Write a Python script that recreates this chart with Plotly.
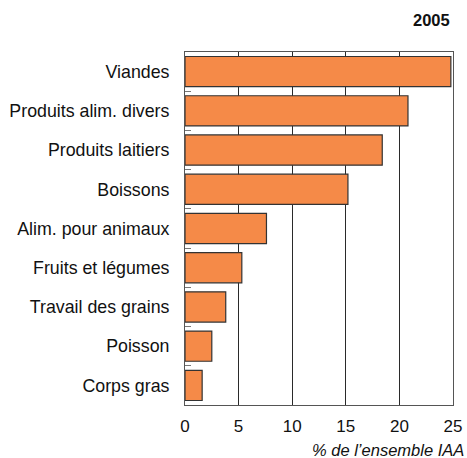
import plotly.graph_objects as go

categories = ["Viandes", "Produits alim. divers", "Produits laitiers", "Boissons",
              "Alim. pour animaux", "Fruits et légumes", "Travail des grains",
              "Poisson", "Corps gras"]
values = [24.8, 20.8, 18.4, 15.2, 7.6, 5.3, 3.8, 2.5, 1.6]
x_ticks = [0, 5, 10, 15, 20, 25]

fig = go.Figure(go.Bar(
    x=values,
    y=categories,
    orientation="h",
    width=0.77,
    marker=dict(color="#F58A48", line=dict(color="#333333", width=1.2)),
))

fig.update_layout(
    width=467, height=458,
    margin=dict(l=185, r=14, t=52, b=53),
    plot_bgcolor="white",
    paper_bgcolor="white",
    font=dict(family="Liberation Sans, Arial", size=17, color="#111"),
    showlegend=False,
    annotations=[
        dict(text="<b>2005</b>", x=1.0, y=1.0, xref="paper", yref="paper",
             xanchor="right", yanchor="middle", xshift=-1, yshift=32, showarrow=False,
             font=dict(size=16.5)),
        dict(text="<i>% de l’ensemble IAA</i>", x=1.0, y=0, xref="paper", yref="paper",
             xanchor="right", yanchor="middle", xshift=13, yshift=-45, showarrow=False,
             font=dict(size=16.5)),
    ],
)

fig.update_xaxes(
    range=[0, 25], tickvals=x_ticks, showgrid=True, gridcolor="#2a2a2a", gridwidth=1,
    showline=True, linecolor="#555555", mirror=True, zeroline=False,
    ticks="", tickfont=dict(size=17), automargin=False, ticklabelstandoff=6,
)
fig.update_yaxes(
    autorange="reversed", showline=True, linecolor="#555555", mirror=True,
    ticks="inside", tickson="boundaries", ticklen=6, tickcolor="#777777",
    showgrid=False, tickfont=dict(size=17.8), automargin=False, ticklabelstandoff=11,
)

# drop the default page margin so the figure sits at the window's corner
fig.write_html("out.html", config={"displayModeBar": False},
               post_script="document.body.style.margin='0';document.body.style.overflow='hidden';")
